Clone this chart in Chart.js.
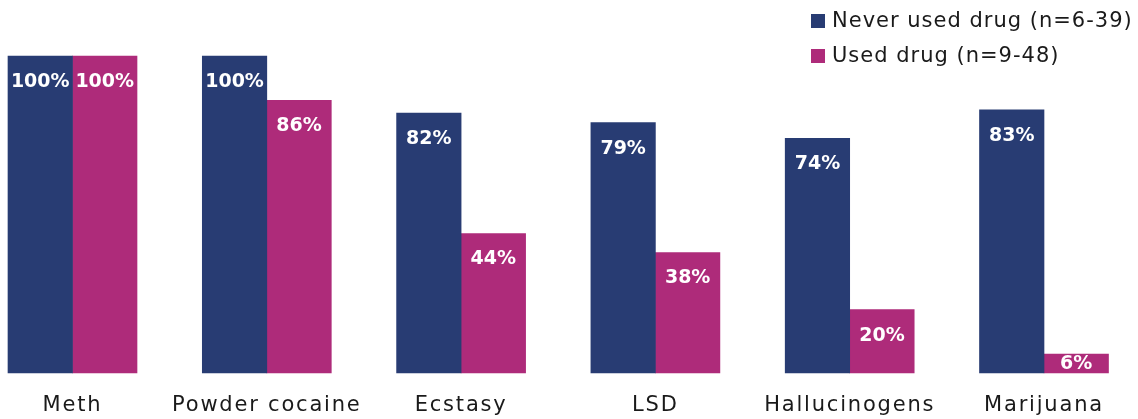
<!DOCTYPE html>
<html>
<head>
<meta charset="utf-8">
<script src="https://cdn.jsdelivr.net/npm/chart.js@4/dist/chart.umd.min.js"></script>
<style>
  html, body { margin: 0; padding: 0; background: #fff; }
  #wrap { width: 1138px; height: 419px; }
</style>
</head>
<body>
<div id="wrap"><canvas id="myChart" width="1138" height="419"></canvas></div>
<script>
var drugs = ['Meth', 'Powder cocaine', 'Ecstasy', 'LSD', 'Hallucinogens', 'Marijuana'];
var neverUsed = [100, 100, 82, 79, 74, 83];
var usedDrug = [100, 86, 44, 38, 20, 6];
var seriesNames = ['Never used drug (n=6-39)', 'Used drug (n=9-48)'];

var NAVY = '#283c73';
var MAGENTA = '#ae2b7a';
var FONT = '"DejaVu Sans", sans-serif';

// wider tracking for the category names
var spacing = {
    id: 'spacing',
    beforeDraw: function(chart) {
        chart.ctx.letterSpacing = '1.8px';
    }
};

// white percentage inside the top of each bar
var barLabels = {
    id: 'barLabels',
    afterDatasetsDraw: function(chart) {
        var ctx = chart.ctx;
        ctx.save();
        ctx.letterSpacing = '0px';
        ctx.fillStyle = '#fff';
        ctx.font = 'bold 19px ' + FONT;
        ctx.textAlign = 'center';
        ctx.textBaseline = 'middle';
        chart.data.datasets.forEach(function(ds, i) {
            chart.getDatasetMeta(i).data.forEach(function(bar, j) {
                var y = Math.min(bar.y + 26, (bar.y + bar.base) / 2 + 1);
                ctx.fillText(ds.data[j] + '%', bar.x, y);
            });
        });
        ctx.restore();
    }
};

// stacked legend at top right
var sideLegend = {
    id: 'sideLegend',
    afterDraw: function(chart) {
        var ctx = chart.ctx;
        ctx.save();
        ctx.letterSpacing = '1px';
        ctx.font = '21px ' + FONT;
        ctx.textBaseline = 'middle';
        chart.data.datasets.forEach(function(ds, i) {
            var y = 21 + i * 35;
            ctx.fillStyle = ds.backgroundColor;
            ctx.fillRect(811, y - 7, 14, 14);
            ctx.fillStyle = '#1a1a1a';
            ctx.fillText(ds.label, 832, y + 1);
        });
        ctx.restore();
    }
};

var ctx = document.getElementById('myChart').getContext('2d');
var myBarChart = new Chart(ctx, {
    type: 'bar',
    data: {
        labels: drugs,
        datasets: [{
            label: seriesNames[0],
            data: neverUsed,
            backgroundColor: NAVY,
            barThickness: 64.5,
            clip: false
        }, {
            label: seriesNames[1],
            data: usedDrug,
            backgroundColor: MAGENTA,
            barThickness: 64.5,
            clip: false
        }]
    },
    options: {
        responsive: false,
        animation: false,
        layout: {
            padding: { left: 72.5, right: 94, top: 56, bottom: 2 }
        },
        plugins: {
            legend: { display: false },
            tooltip: { enabled: false }
        },
        scales: {
            x: {
                offset: false,
                grid: { display: false },
                border: { display: false },
                afterFit: function(scale) {
                    scale.height = 44;
                },
                ticks: {
                    padding: 12,
                    color: '#1a1a1a',
                    font: { family: FONT, size: 21 },
                    maxRotation: 0,
                    autoSkip: false
                }
            },
            y: {
                display: false,
                min: 0,
                max: 100
            }
        }
    },
    plugins: [spacing, barLabels, sideLegend]
});
</script>
</body>
</html>
